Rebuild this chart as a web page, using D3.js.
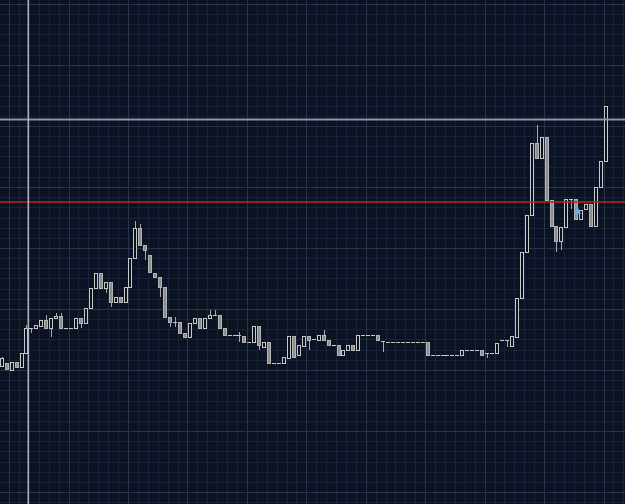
<!DOCTYPE html>
<html>
<head>
<meta charset="utf-8">
<script src="https://cdn.jsdelivr.net/npm/d3@7"></script>
<style>
  html, body { margin: 0; padding: 0; background: #0b1323; overflow: hidden; }
  svg { display: block; }
</style>
</head>
<body>
<svg width="625" height="504"></svg>
<script>
var width = 625;
var height = 504;

// candle prices, one entry per bar (index 0 = left edge)
var opens = [2.34,2.37,2.30,2.38,2.33,2.47,2.72,2.72,2.74,2.80,2.72,2.82,2.84,2.72,2.72,2.72,2.82,2.77,2.92,3.12,
  3.27,3.12,3.18,2.98,3.03,2.98,3.13,3.42,3.72,3.55,3.45,3.27,3.23,3.13,2.83,2.78,2.78,2.67,2.63,2.77,
  2.82,2.72,2.82,2.85,2.85,2.72,2.65,2.65,2.65,2.64,2.58,2.58,2.74,2.53,2.58,2.37,2.37,2.37,2.42,2.64,
  2.45,2.54,2.64,2.61,2.60,2.65,2.60,2.55,2.55,2.45,2.50,2.55,2.50,2.65,2.65,2.65,2.65,2.59,2.58,2.58,
  2.58,2.58,2.58,2.58,2.58,2.58,2.58,2.45,2.45,2.45,2.45,2.45,2.45,2.45,2.50,2.50,2.50,2.50,2.47,2.47,
  2.47,2.60,2.60,2.54,2.63,3.02,3.48,3.85,4.57,4.42,4.63,4.00,3.74,3.59,3.73,4.01,4.01,3.81,3.91,3.96,
  3.74,4.13,4.39];
var highs = [2.43,2.37,2.38,2.38,2.47,2.75,2.72,2.75,2.80,2.85,2.82,2.87,2.87,2.72,2.72,2.82,2.82,2.92,3.12,3.27,
  3.27,3.18,3.18,3.03,3.03,3.13,3.42,3.79,3.76,3.55,3.45,3.27,3.23,3.13,2.83,2.83,2.78,2.67,2.77,2.82,
  2.82,2.82,2.90,2.90,2.85,2.72,2.65,2.65,2.68,2.64,2.58,2.74,2.74,2.58,2.58,2.37,2.37,2.43,2.64,2.64,
  2.55,2.64,2.64,2.61,2.65,2.70,2.60,2.55,2.55,2.50,2.55,2.55,2.65,2.65,2.65,2.65,2.65,2.59,2.58,2.58,
  2.58,2.58,2.58,2.58,2.58,2.58,2.58,2.45,2.45,2.45,2.45,2.45,2.45,2.50,2.50,2.50,2.50,2.50,2.47,2.47,
  2.57,2.60,2.60,2.64,3.02,3.48,3.85,4.57,4.75,4.63,4.63,4.00,3.74,3.73,4.01,4.01,4.01,3.90,3.96,3.96,
  4.13,4.39,4.94];
var lows = [2.33,2.31,2.30,2.33,2.33,2.47,2.67,2.72,2.74,2.72,2.63,2.82,2.72,2.72,2.72,2.72,2.72,2.77,2.92,3.12,
  3.12,3.07,2.93,2.98,2.98,2.98,3.13,3.42,3.55,3.40,3.28,3.23,3.03,2.83,2.73,2.73,2.67,2.63,2.63,2.77,
  2.72,2.72,2.82,2.85,2.72,2.65,2.65,2.65,2.58,2.58,2.58,2.58,2.50,2.53,2.37,2.37,2.37,2.37,2.42,2.43,
  2.45,2.54,2.50,2.61,2.60,2.60,2.55,2.55,2.45,2.45,2.50,2.50,2.50,2.65,2.65,2.65,2.60,2.48,2.58,2.58,
  2.58,2.58,2.58,2.58,2.58,2.58,2.45,2.45,2.45,2.45,2.45,2.45,2.45,2.45,2.50,2.50,2.50,2.45,2.42,2.47,
  2.47,2.60,2.53,2.54,2.63,3.02,3.48,3.85,4.42,4.42,4.00,3.74,3.48,3.50,3.73,3.91,3.81,3.81,3.91,3.74,
  3.74,4.13,4.39];
var closes = [2.42,2.31,2.38,2.33,2.47,2.72,2.72,2.75,2.80,2.72,2.82,2.84,2.72,2.72,2.72,2.82,2.77,2.92,3.12,3.27,
  3.12,3.18,2.98,3.03,2.98,3.13,3.42,3.72,3.55,3.50,3.28,3.23,3.13,2.83,2.78,2.78,2.67,2.63,2.77,2.82,
  2.72,2.82,2.85,2.85,2.72,2.65,2.65,2.65,2.65,2.58,2.58,2.74,2.55,2.58,2.37,2.37,2.37,2.43,2.64,2.43,
  2.55,2.64,2.60,2.61,2.65,2.60,2.55,2.55,2.45,2.50,2.55,2.50,2.65,2.65,2.65,2.65,2.60,2.59,2.58,2.58,
  2.58,2.58,2.58,2.58,2.58,2.58,2.45,2.45,2.45,2.45,2.45,2.45,2.45,2.50,2.50,2.50,2.50,2.45,2.47,2.47,
  2.57,2.60,2.60,2.64,3.02,3.48,3.85,4.57,4.42,4.63,4.00,3.74,3.59,3.73,4.01,4.01,3.81,3.90,3.96,3.74,
  4.13,4.39,4.94];

var redLevel = 3.98;    // red horizontal level
var crossPrice = 4.805; // crosshair price
var crossBar = 5.37;    // crosshair bar position
var signal = {bar: 116.25, price: 3.89}; // blue arrow

var gridBase = 1.08, gridStep = 0.61; // price grid, 6 minor steps per major
var barsPerMajor = 12, barsPerMinor = 2;

var x = d3.scaleLinear().domain([0, opens.length - 1]).range([1.7, 606]);
var y = d3.scaleLinear().domain([0.96, 6.00]).range([height, 0]);

var svg = d3.select('svg');
svg.append('rect').attr('width', width).attr('height', height).attr('fill', '#0b1323');

function snap(v) {return Math.round(v) + 0.5;}

// grid lines
var hMinor = [], hMajor = [];
for (var k = -1; k <= 60; k++) {
	var p = gridBase + k * gridStep / 6;
	if (y(p) < 0 || y(p) > height) continue;
	(k % 6 == 0 ? hMajor : hMinor).push(p);
}
var vMinor = [], vMajor = [];
for (var b = -0.5; b <= 130; b += barsPerMinor) {
	if (x(b) < 0 || x(b) > width) continue;
	((b - 13.5) % barsPerMajor == 0 ? vMajor : vMinor).push(b);
}

function hLines(data, color) {
	svg.append('g').selectAll('line').data(data).enter().append('line')
		.attr('x1', 0).attr('x2', width)
		.attr('y1', function(d) {return snap(y(d));})
		.attr('y2', function(d) {return snap(y(d));})
		.style('stroke', color).style('stroke-width', 1);
}
function vLines(data, color) {
	svg.append('g').selectAll('line').data(data).enter().append('line')
		.attr('y1', 0).attr('y2', height)
		.attr('x1', function(d) {return snap(x(d));})
		.attr('x2', function(d) {return snap(x(d));})
		.style('stroke', color).style('stroke-width', 1);
}
hLines(hMinor, '#18213a');
vLines(vMinor, '#18213a');
hLines(hMajor, '#2a3348');
vLines(vMajor, '#2a3348');

// bars
var bars = opens.map(function(o, i) {
	return {i: i, o: o, h: highs[i], l: lows[i], c: closes[i]};
});

var g = svg.append('g');

// wicks
g.selectAll('line.wick').data(bars).enter().append('line')
	.attr('class', 'wick')
	.attr('x1', function(d) {return Math.round(x(d.i)) + 0.5;})
	.attr('x2', function(d) {return Math.round(x(d.i)) + 0.5;})
	.attr('y1', function(d) {return Math.round(y(d.h));})
	.attr('y2', function(d) {return Math.round(y(d.l));})
	.style('stroke', '#a8a8a8').style('stroke-width', 1);

// bodies
var bodies = bars.filter(function(d) {return d.o != d.c;});
g.selectAll('rect.body').data(bodies).enter().append('rect')
	.attr('class', 'body')
	.attr('x', function(d) {return Math.round(x(d.i)) - 1.5;})
	.attr('y', function(d) {return snap(y(Math.max(d.o, d.c)));})
	.attr('width', 3)
	.attr('height', function(d) {return Math.max(1, Math.round(y(Math.min(d.o, d.c))) - Math.round(y(Math.max(d.o, d.c))));})
	.style('fill', function(d) {return d.c > d.o ? '#0b1323' : '#8e8e8e';})
	.style('stroke', function(d) {return d.c > d.o ? '#c8c8c8' : '#b4b4b4';})
	.style('stroke-width', 1);

// flat bars (open == close)
var flats = bars.filter(function(d) {return d.o == d.c;});
g.selectAll('line.flat').data(flats).enter().append('line')
	.attr('class', 'flat')
	.attr('x1', function(d) {return Math.round(x(d.i)) - 2;})
	.attr('x2', function(d) {return Math.round(x(d.i)) + 2;})
	.attr('y1', function(d) {return snap(y(d.o));})
	.attr('y2', function(d) {return snap(y(d.o));})
	.style('stroke', '#c8c8c8').style('stroke-width', 1);

// red level
svg.append('line')
	.attr('x1', 0).attr('x2', width)
	.attr('y1', y(redLevel)).attr('y2', y(redLevel))
	.style('stroke', '#b8262b').style('stroke-width', 1.5);

// crosshair
svg.append('line')
	.attr('x1', 0).attr('x2', width)
	.attr('y1', y(crossPrice)).attr('y2', y(crossPrice))
	.style('stroke', '#8e93a8').style('stroke-width', 2);
svg.append('line')
	.attr('x1', x(crossBar)).attr('x2', x(crossBar))
	.attr('y1', 0).attr('y2', height)
	.style('stroke', '#b0b4c6').style('stroke-width', 1.5);

// signal arrow
var sx = x(signal.bar), sy = y(signal.price);
svg.append('path')
	.attr('d', 'M' + sx + ',' + (sy - 4) + 'L' + (sx + 3.5) + ',' + (sy + 3) + 'L' + (sx - 3.5) + ',' + (sy + 3) + 'Z')
	.style('fill', '#5bb8f5');
</script>
</body>
</html>
